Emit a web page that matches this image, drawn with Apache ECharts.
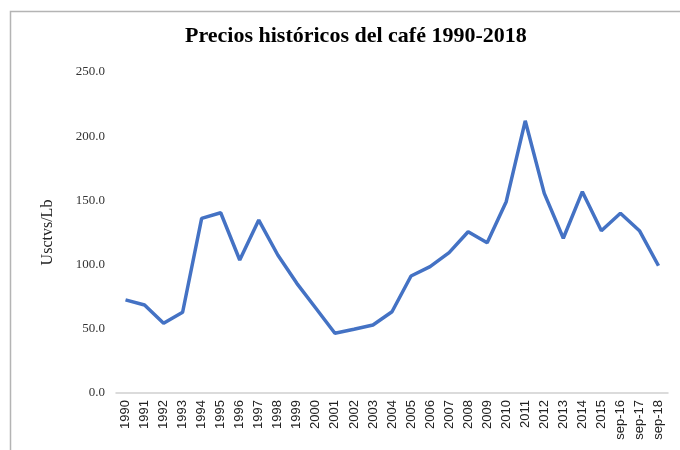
<!DOCTYPE html>
<html>
<head>
<meta charset="utf-8">
<script src="https://cdn.jsdelivr.net/npm/echarts@6/dist/echarts.min.js"></script>
<style>
  html, body { margin: 0; padding: 0; background: #fff; }
  #chart { width: 680px; height: 450px; }
</style>
</head>
<body>
<div id="chart"></div>
<script>
// precios historicos del cafe, usctvs/lb
var years = ['1990', '1991', '1992', '1993', '1994', '1995', '1996', '1997', '1998', '1999',
  '2000', '2001', '2002', '2003', '2004', '2005', '2006', '2007', '2008', '2009',
  '2010', '2011', '2012', '2013', '2014', '2015', 'sep-16', 'sep-17', 'sep-18'];
var prices = [72.5, 68.5, 54.3, 62.9, 136.0, 140.4, 103.6, 134.7, 107.5, 85.4,
  66.0, 46.5, 49.6, 53.0, 63.3, 91.1, 98.4, 109.3, 125.6, 117.0,
  149.0, 212.0, 155.5, 120.5, 156.8, 126.4, 140.0, 126.4, 99.1];
var yTicks = [0, 50, 100, 150, 200, 250];

var chart = echarts.init(document.getElementById('chart'));
chart.setOption({
  animation: false,
  backgroundColor: '#fff',
  graphic: [{
    type: 'rect',
    shape: { x: 10.5, y: 11.5, width: 700, height: 500 },
    style: { fill: 'none', stroke: '#b4b4b4', lineWidth: 1.5 },
    silent: true
  }],
  title: {
    text: 'Precios históricos del café 1990-2018',
    left: 180,
    top: 20,
    textStyle: {
      fontFamily: 'Liberation Serif',
      fontWeight: 'bold',
      fontSize: 22,
      color: '#000'
    }
  },
  grid: { left: 116, right: 12, top: 72, bottom: 57, containLabel: false },
  xAxis: {
    type: 'category',
    data: years,
    boundaryGap: true,
    axisLine: { lineStyle: { color: '#d0d0d0', width: 1.5 } },
    axisTick: { show: false },
    axisLabel: {
      rotate: 90,
      interval: 0,
      margin: 7,
      fontFamily: 'Liberation Sans',
      fontSize: 13,
      color: '#222'
    }
  },
  yAxis: {
    type: 'value',
    min: yTicks[0],
    max: yTicks[yTicks.length - 1],
    interval: 50,
    name: 'Usctvs/Lb',
    nameLocation: 'middle',
    nameGap: 60,
    nameRotate: 90,
    nameTextStyle: { fontFamily: 'Liberation Serif', fontSize: 16, color: '#222' },
    axisLine: { show: false },
    axisTick: { show: false },
    splitLine: { show: false },
    axisLabel: {
      margin: 11,
      fontFamily: 'Liberation Serif',
      fontSize: 13,
      color: '#333',
      formatter: function (v) { return v.toFixed(1); }
    }
  },
  series: [{
    type: 'line',
    data: prices,
    showSymbol: false,
    symbol: 'none',
    lineStyle: { color: '#4472c4', width: 3.5 }
  }]
});
</script>
</body>
</html>
